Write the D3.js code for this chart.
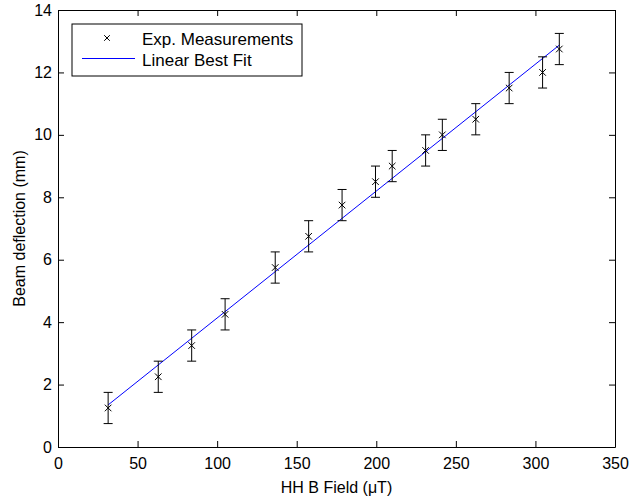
<!DOCTYPE html>
<html>
<head>
<meta charset="utf-8">
<script src="https://cdn.jsdelivr.net/npm/d3@7"></script>
<style>
  body { margin: 0; background: #fff; }
  svg { display: block; font-family: "Liberation Sans", Arial, sans-serif; }
  .axis path, .axis line { stroke: #000; }
  .axis text { fill: #000; font-size: 16px; }
</style>
</head>
<body>
<div id="chart"></div>
<script>
// measured field (uT) and beam deflection (mm)
const fieldValues = [31.5, 63, 84, 105, 136.5, 157.5, 178.5, 199.5, 210, 231, 241.5, 262.5, 283.5, 304.5, 315];
const deflectionValues = [1.25, 2.25, 3.25, 4.25, 5.75, 6.75, 7.75, 8.5, 9.0, 9.5, 10.0, 10.5, 11.5, 12.0, 12.75];
const deflectionErrors = [0.5, 0.5, 0.5, 0.5, 0.5, 0.5, 0.5, 0.5, 0.5, 0.5, 0.5, 0.5, 0.5, 0.5, 0.5];
const xTicks = [0, 50, 100, 150, 200, 250, 300, 350];
const yTicks = [0, 2, 4, 6, 8, 10, 12, 14];
const legendLabels = ['Exp. Measurements', 'Linear Best Fit'];

const width = 632, height = 504;
const plot = { left: 58, right: 615, top: 10, bottom: 447 };

const svg = d3.select('#chart').append('svg')
    .attr('width', width)
    .attr('height', height);

const x = d3.scaleLinear().domain([0, 350]).range([plot.left, plot.right]);
const y = d3.scaleLinear().domain([0, 14]).range([plot.bottom, plot.top]);

// least squares fit of the measurements
const mx = d3.mean(fieldValues), my = d3.mean(deflectionValues);
const sxy = d3.sum(fieldValues, (v, i) => (v - mx) * (deflectionValues[i] - my));
const sxx = d3.sum(fieldValues, v => (v - mx) * (v - mx));
const slope = sxy / sxx, intercept = my - slope * mx;
const fitX = d3.extent(fieldValues);

// axes, ticks point inward on all four sides
svg.append('g').attr('class', 'axis')
    .attr('transform', `translate(0,${plot.bottom})`)
    .call(d3.axisBottom(x).tickValues(xTicks).tickSize(-6).tickSizeOuter(0).tickPadding(11));

svg.append('g').attr('class', 'axis')
    .attr('transform', `translate(${plot.left},0)`)
    .call(d3.axisLeft(y).tickValues(yTicks).tickSize(-6).tickSizeOuter(0).tickPadding(6));

svg.append('g').attr('class', 'axis')
    .attr('transform', `translate(0,${plot.top})`)
    .call(d3.axisTop(x).tickValues(xTicks).tickSize(-6).tickSizeOuter(0).tickFormat(''));

svg.append('g').attr('class', 'axis')
    .attr('transform', `translate(${plot.right},0)`)
    .call(d3.axisRight(y).tickValues(yTicks).tickSize(-6).tickSizeOuter(0).tickFormat(''));

// best fit line
svg.append('line')
    .attr('x1', x(fitX[0])).attr('y1', y(slope * fitX[0] + intercept))
    .attr('x2', x(fitX[1])).attr('y2', y(slope * fitX[1] + intercept))
    .attr('stroke', '#0000ff')
    .attr('stroke-width', 1);

// error bars
const pts = fieldValues.map((v, i) => ({ x: v, y: deflectionValues[i], e: deflectionErrors[i] }));
const cap = 4.5, mk = 3.3;

const bars = svg.append('g').attr('stroke', '#000').attr('stroke-width', 1).attr('fill', 'none');
bars.selectAll('.err')
    .data(pts)
    .enter()
    .append('path')
    .attr('d', d => {
        const cx = x(d.x), y0 = y(d.y - d.e), y1 = y(d.y + d.e);
        return `M${cx},${y0}V${y1}M${cx - cap},${y0}H${cx + cap}M${cx - cap},${y1}H${cx + cap}`;
    });

// x markers
bars.selectAll('.mark')
    .data(pts)
    .enter()
    .append('path')
    .attr('d', d => {
        const cx = x(d.x), cy = y(d.y);
        return `M${cx - mk},${cy - mk}L${cx + mk},${cy + mk}M${cx - mk},${cy + mk}L${cx + mk},${cy - mk}`;
    });

// axis labels
svg.append('text')
    .attr('x', (plot.left + plot.right) / 2)
    .attr('y', 493)
    .attr('text-anchor', 'middle')
    .attr('font-size', '16px')
    .text('HH B Field (\u03bcT)');

svg.append('text')
    .attr('transform', `translate(25,${(plot.top + plot.bottom) / 2}) rotate(-90)`)
    .attr('text-anchor', 'middle')
    .attr('font-size', '16px')
    .text('Beam deflection (mm)');

// legend
const legend = svg.append('g');
legend.append('rect')
    .attr('x', 72).attr('y', 24)
    .attr('width', 230).attr('height', 52)
    .attr('fill', '#fff')
    .attr('stroke', '#000');

legend.append('path')
    .attr('d', `M${107 - 2.8},${38 - 2.8}L${107 + 2.8},${38 + 2.8}M${107 - 2.8},${38 + 2.8}L${107 + 2.8},${38 - 2.8}`)
    .attr('stroke', '#000');

legend.append('line')
    .attr('x1', 82).attr('x2', 135)
    .attr('y1', 58.5).attr('y2', 58.5)
    .attr('stroke', '#0000ff');

legend.selectAll('.lbl')
    .data(legendLabels)
    .enter()
    .append('text')
    .attr('x', 142)
    .attr('y', (d, i) => 45 + i * 21)
    .attr('font-size', '17px')
    .text(d => d);
</script>
</body>
</html>
